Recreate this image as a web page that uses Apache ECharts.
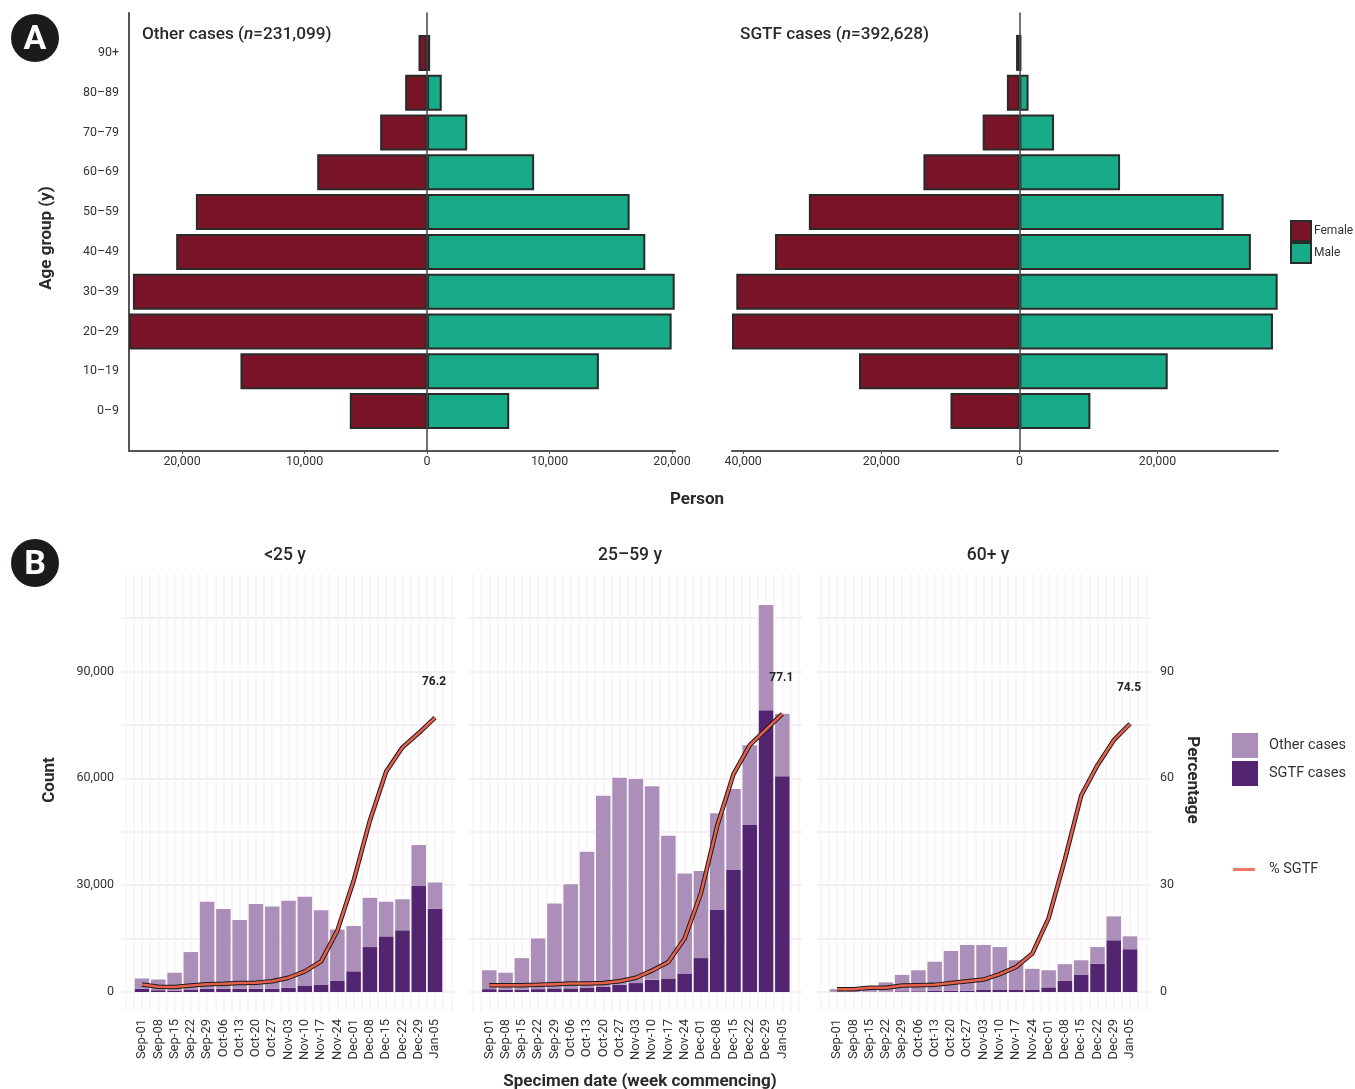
<!DOCTYPE html>
<html><head><meta charset="utf-8">
<style>html,body{margin:0;padding:0;background:#fff}#c{width:1355px;height:1089px}</style>
<script src="https://cdn.jsdelivr.net/npm/echarts@6/dist/echarts.min.js"></script>
</head><body><div id="c"></div>
<script>
// ---------- Panel A data ----------
const ageGroups = ['0–9','10–19','20–29','30–39','40–49','50–59','60–69','70–79','80–89','90+'];
const otherFemale = [6305,15230,24330,24010,20480,18870,8965,3826,1786,694];
const otherMale   = [6710,14030,19970,20220,17820,16540,8745,3280,1200,255];
const sgtfFemale  = [9980,23230,41620,41000,35390,30490,13900,5320,1812,483];
const sgtfMale    = [10280,21480,36720,37400,33520,29580,14580,5020,1330,300];
const leftTicks  = [-20000,-10000,0,10000,20000];
const rightTicks = [-40000,-20000,0,20000];

// ---------- Panel B data ----------
const weeks = ['Sep-01','Sep-08','Sep-15','Sep-22','Sep-29','Oct-06','Oct-13','Oct-20','Oct-27','Nov-03','Nov-10','Nov-17','Nov-24','Dec-01','Dec-08','Dec-15','Dec-22','Dec-29','Jan-05'];
const totalU25 = [3800,3500,5400,11200,25300,23300,20200,24700,24000,25600,26700,22900,17500,18500,26400,25300,26000,41200,30700];
const sgtfU25  = [900,500,400,700,900,900,900,900,900,1200,1700,2100,3100,5800,12600,15600,17300,29700,23300];
const pctU25   = [2.1,1.5,1.4,1.8,2.2,2.3,2.5,2.6,3.0,4.0,5.8,8.6,17.2,31.2,48.1,61.8,68.6,72.6,76.9];
const total2559 = [6100,5400,9500,15000,24800,30200,39300,55000,60100,59700,57700,43800,33200,33900,50100,56900,69200,108500,78000];
const sgtf2559  = [800,600,600,800,1000,1000,1200,1500,2000,2500,3400,3800,5200,9500,23100,34200,46800,79000,60500];
const pct2559   = [1.9,1.9,1.9,2.0,2.2,2.4,2.4,2.5,3.0,4.0,6.0,8.4,15.0,27.7,46.6,61.1,69.2,73.6,78.0];
const total60 = [800,800,1300,2700,4800,6100,8500,11500,13200,13200,12600,8900,6500,6100,7800,8900,12600,21200,15600];
const sgtf60  = [100,100,100,100,200,200,300,300,400,700,700,700,700,1300,3100,4900,7900,14500,12000];
const pct60   = [0.8,0.8,1.2,1.2,1.8,1.9,2.0,2.5,3.0,3.5,5.0,7.0,10.8,20.7,37.2,55.1,63.6,70.6,75.2];
const panelTitles = ['<25 y','25–59 y','60+ y'];
const endLabels = ['76.2','77.1','74.5'];

const FONT='Roboto', TXT='#333333';
const FEMALE='#7a1428', MALE='#17ab88', LIGHT='#ab8fb8', DARK='#532470', RED='#e8604c';
const grid=[],xAxis=[],yAxis=[],series=[];
const fmt=v=>Math.abs(v).toLocaleString('en-US');
function addGrid(g){grid.push(Object.assign({containLabel:false},g));return grid.length-1;}

// ---------- Panel A ----------
function pyramid(box,xMin,xMax,ticks,fem,mal,showY,leftLine){
  const f=addGrid({left:box[0],width:box[1]-box[0],top:13,height:438});
  xAxis.push({gridIndex:f,type:'value',min:xMin,max:xMax,splitLine:{show:false},
    axisLine:{show:true,onZero:false,lineStyle:{color:'#555',width:2}},
    axisTick:{show:true,length:3,lineStyle:{color:'#555'},customValues:ticks},
    axisLabel:{fontFamily:FONT,fontSize:12.4,color:TXT,margin:5,customValues:ticks,formatter:fmt}});
  yAxis.push({gridIndex:f,type:'value',min:0,max:1,position:'left',
    axisLine:{show:leftLine,onZero:false,lineStyle:{color:'#555',width:2}},axisTick:{show:false},axisLabel:{show:false},splitLine:{show:false}});
  const b=addGrid({left:box[0],width:box[1]-box[0],top:33,height:398});
  xAxis.push({gridIndex:b,type:'value',min:xMin,max:xMax,show:false});
  yAxis.push({gridIndex:b,type:'category',data:ageGroups,
    axisLine:{show:false},axisTick:{show:showY,length:3,alignWithLabel:true,lineStyle:{color:'#555'}},
    axisLabel:{show:showY,fontFamily:FONT,fontSize:12.4,color:TXT,margin:10,interval:0}});
  const xi=xAxis.length-1,yi=yAxis.length-1;
  const common={type:'bar',stack:'p'+b,xAxisIndex:xi,yAxisIndex:yi,barWidth:36};
  series.push(Object.assign({},common,{name:'Female',data:fem.map(v=>-v),itemStyle:{color:FEMALE,borderColor:'#2a2a2a',borderWidth:2}}));
  series.push(Object.assign({},common,{name:'Male',data:mal,itemStyle:{color:MALE,borderColor:'#2a2a2a',borderWidth:2}}));
  // zero line through the whole frame
  const z=addGrid({left:box[0],width:box[1]-box[0],top:13,height:438});
  xAxis.push({gridIndex:z,type:'value',min:xMin,max:xMax,show:false});
  yAxis.push({gridIndex:z,type:'value',min:0,max:1,z:6,
    axisLine:{show:true,onZero:true,lineStyle:{color:'#444',width:1.5}},axisTick:{show:false},axisLabel:{show:false},splitLine:{show:false}});
}
pyramid([129,675],-24330,20245,leftTicks,otherFemale,otherMale,true,true);
pyramid([732,1278],-41620,37450,rightTicks,sgtfFemale,sgtfMale,false,false);

// ---------- Panel B ----------
const BAND=16.28;
function panel(c0,tot,sg,pct,i){
  // horizontal gridlines + value labels
  const h=addGrid({left:c0-20,width:BAND*18+40,top:618,height:374});
  xAxis.push({gridIndex:h,type:'value',min:0,max:1,show:false});
  const hLine={show:true,lineStyle:{color:'#f4edf4',width:2}};
  const none={show:false};
  yAxis.push({gridIndex:h,type:'value',min:0,max:105000,interval:15000,splitLine:hLine,axisLine:none,axisTick:none,
    axisLabel:{show:i===0,fontFamily:FONT,fontSize:12.5,color:TXT,margin:8,customValues:[0,30000,60000,90000],formatter:v=>v.toLocaleString('en-US')}});
  if(i===2){
    xAxis.push({gridIndex:h,type:'value',min:0,max:1,show:false});
    yAxis.push({gridIndex:h,type:'value',position:'right',min:0,max:105,interval:15,splitLine:none,axisLine:none,axisTick:none,
      axisLabel:{fontFamily:FONT,fontSize:12.5,color:TXT,margin:10,customValues:[0,30,60,90]}});
  }
  // vertical gridlines
  const v=addGrid({left:c0-BAND,width:BAND*20,top:574,height:437});
  xAxis.push({gridIndex:v,type:'value',min:-1,max:19,interval:0.5,axisLine:none,axisTick:none,axisLabel:none,
    splitLine:{show:true,lineStyle:{color:'#f7f2f7',width:1.5}}});
  yAxis.push({gridIndex:v,type:'value',min:0,max:1,show:false});
  // bars + line
  const b=addGrid({left:c0-BAND/2,width:BAND*19,top:564,height:428});
  xAxis.push({gridIndex:b,type:'category',data:weeks,offset:19,axisLine:none,axisTick:none,
    axisLabel:{interval:0,rotate:90,fontFamily:FONT,fontSize:13,color:TXT,margin:8,padding:[6,0,0,0]}});
  yAxis.push({gridIndex:b,type:'value',min:0,max:120000,show:false});
  yAxis.push({gridIndex:b,type:'value',min:0,max:120,show:false});
  const xi=xAxis.length-1,yi=yAxis.length-2;
  const bar={type:'bar',stack:'s'+b,xAxisIndex:xi,yAxisIndex:yi,barWidth:14.5};
  series.push(Object.assign({},bar,{name:'SGTF cases',data:sg,itemStyle:{color:DARK}}));
  series.push(Object.assign({},bar,{name:'Other cases',data:tot.map((t,k)=>t-sg[k]),itemStyle:{color:LIGHT}}));
  const ln={type:'line',xAxisIndex:xi,yAxisIndex:yi+1,smooth:false,silent:true};
  series.push(Object.assign({},ln,{name:'outline',z:3,symbol:'none',showSymbol:false,lineStyle:{color:'#1c1c1c',width:4.5},data:pct}));
  series.push(Object.assign({},ln,{name:'% SGTF',z:4,symbol:'circle',symbolSize:0,showSymbol:true,showAllSymbol:true,
    lineStyle:{color:RED,width:2.5},itemStyle:{color:RED},
    data:pct.map((p,k)=>k===pct.length-1?{value:p,label:{show:true,position:'top',offset:[-1,-25],formatter:endLabels[i],
      fontFamily:FONT,fontSize:12,fontWeight:'bold',color:'#222'}}:p)}));
}
panel(142,totalU25,sgtfU25,pctU25,0);
panel(489.3,total2559,sgtf2559,pct2559,1);
panel(837,total60,sgtf60,pct60,2);

const txt=(x,y,text,o)=>({type:'text',x,y,rotation:(o&&o.rot)||0,silent:true,style:Object.assign({text,fontFamily:FONT,fontSize:17,fontWeight:'bold',fill:'#2a2a2a',align:'center',verticalAlign:'middle'},o&&o.style)});
const richHead=(a,b)=>({text:`{a|${a} (}{i|n}{a|=${b})}`,align:'left',rich:{a:{fontFamily:FONT,fontSize:17.2,fontWeight:500,fill:'#2a2a2a'},i:{fontFamily:FONT,fontSize:17.2,fontStyle:'italic',fontWeight:500,fill:'#2a2a2a'}}});
const badge=(x,y,l)=>[{type:'circle',shape:{cx:x,cy:y,r:24},style:{fill:'#1c1a1b'}},
  txt(x,y+2,l,{style:{fontSize:34,fontWeight:'bold',fill:'#fff',stroke:'#1c1a1b'}})];
const title=t=>({fontWeight:500,fontSize:17.5});
const graphic=[
  ...badge(35,38,'A'),...badge(35,563,'B'),
  txt(142,35,'',{style:richHead('Other cases','231,099')}),
  txt(740,35,'',{style:richHead('SGTF cases','392,628')}),
  txt(47,238,'Age group (y)',{rot:Math.PI/2}),
  txt(697,500,'Person'),
  txt(50,780,'Count',{rot:Math.PI/2}),
  txt(1192,780,'Percentage',{rot:-Math.PI/2}),
  txt(640,1082,'Specimen date (week commencing)'),
  txt(285,556,panelTitles[0],{style:title()}),
  txt(630,556,panelTitles[1],{style:title()}),
  txt(988,556,panelTitles[2],{style:title()})
];
const legendBase={orient:'vertical',padding:0,selectedMode:false};
const legend=[
  Object.assign({},legendBase,{left:1290,top:220,itemWidth:20,itemHeight:20,itemGap:0,icon:'rect',data:['Female','Male'],
    textStyle:{fontFamily:FONT,fontSize:12,color:TXT,padding:[0,0,0,-2]}}),
  Object.assign({},legendBase,{left:1232,top:733,itemWidth:26,itemHeight:25,itemGap:3,icon:'rect',data:['Other cases','SGTF cases'],
    textStyle:{fontFamily:FONT,fontSize:14.5,color:TXT,padding:[4,0,0,6]}}),
  Object.assign({},legendBase,{left:1233,top:862,itemWidth:22,itemHeight:3,icon:'rect',itemStyle:{color:'#ee7766'},data:['% SGTF'],
    textStyle:{fontFamily:FONT,fontSize:14.5,color:TXT,padding:[2,0,0,9]}})
];
const chart=echarts.init(document.getElementById('c'),null,{renderer:'canvas'});
chart.setOption({animation:false,backgroundColor:'#fff',grid,xAxis,yAxis,series,legend,graphic,tooltip:{show:false}});
</script></body></html>
